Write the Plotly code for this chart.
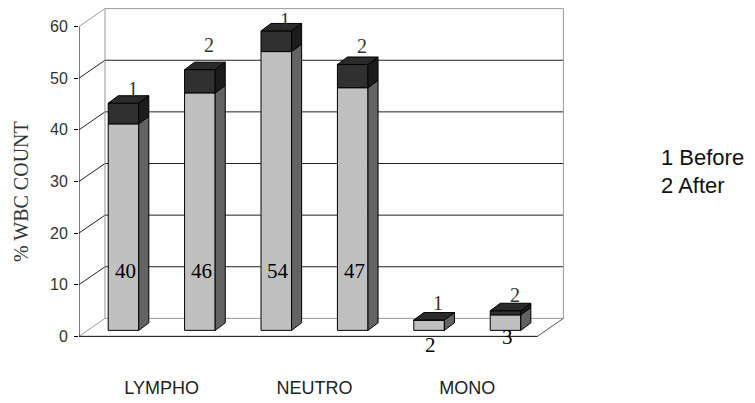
import plotly.graph_objects as go

# ---- data ----
categories = ["LYMPHO", "NEUTRO", "MONO"]
before_main = [40, 54, 2]
after_main = [46, 47, 3]
before_cap = [4, 4, 0]
after_cap = [4.5, 4.5, 0.8]
series_tags = ["1", "2"]
legend_lines = ["1 Before", "2 After"]
y_ticks = [0, 10, 20, 30, 40, 50, 60]
y_title = "% WBC COUNT"

# ---- geometry (data units) ----
DX, DY = 0.17, 3.48        # wall depth
OX, OY = 0.041, 1.16       # bar front offset inside the depth
BW = 0.2                   # bar width
BDX, BDY = 0.066, 1.45     # bar depth
GOFF = 0.25                # bar offset inside a group
value_label_y = [12.6, 12.6, 12.6, 12.6, -1.75, -0.2]
tag_yshift = [7, 17, 3, 11, 10, 8]

# page layout (browser adds 8px body margin)
W, H = 747, 395
ML, MT, MR, MB = 71, 0, 187, 46
X_RANGE = [0, 3.2]
Y_RANGE = [-4, 63.6]
PW, PH = W - ML - MR, H - MT - MB


def paper_x(wx):
    return (wx - 8 - ML) / PW


def paper_y(wy):
    return (MT + PH - (wy - 8)) / PH


C_GRAY = "#c0c0c0"
C_GRAY_SIDE = "#636363"
C_DARK = "#303030"
C_DARK_SIDE = "#1c1c1c"
C_TOP = "#2a2a2a"
SERIF = "Liberation Serif"
SANS = "Liberation Sans"

xs, mains, caps, tags = [], [], [], []
for i in range(len(categories)):
    for s, (m, c) in enumerate([(before_main, before_cap), (after_main, after_cap)]):
        xs.append(i + 0.5 + (s - 0.5) * 2 * GOFF + OX)
        mains.append(m[i])
        caps.append(c[i])
        tags.append(series_tags[s])

fig = go.Figure()
fig.add_trace(go.Bar(x=xs, y=mains, base=[OY] * len(xs), width=BW,
                     marker=dict(color=C_GRAY, line=dict(color="black", width=1)),
                     hoverinfo="skip"))
fig.add_trace(go.Bar(x=xs, y=caps, base=[OY + m for m in mains], width=BW,
                     marker=dict(color=C_DARK, line=dict(color="black", width=1)),
                     hoverinfo="skip"))


def poly(px, py, color):
    fig.add_trace(go.Scatter(x=px + [px[0]], y=py + [py[0]], mode="lines",
                             fill="toself", fillcolor=color,
                             line=dict(color="black", width=1), hoverinfo="skip"))


annotations = []
for x, m, c, tag, ly, ys in zip(xs, mains, caps, tags, value_label_y, tag_yshift):
    xl, xr = x - BW / 2, x + BW / 2
    b0 = OY
    b1 = OY + m
    b2 = OY + m + c
    poly([xr, xr + BDX, xr + BDX, xr], [b0, b0 + BDY, b1 + BDY, b1], C_GRAY_SIDE)
    if c > 0:
        poly([xr, xr + BDX, xr + BDX, xr], [b1, b1 + BDY, b2 + BDY, b2], C_DARK_SIDE)
    poly([xl, xl + BDX, xr + BDX, xr], [b2, b2 + BDY, b2 + BDY, b2], C_TOP)
    annotations.append(dict(x=x + BDX * 0.9, y=b2 + BDY, xref="x", yref="y",
                            text=tag, showarrow=False, xanchor="center", yanchor="middle",
                            yshift=ys, font=dict(family=SERIF, size=20, color="#333")))
    annotations.append(dict(x=x + 0.01, y=ly, xref="x", yref="y", text=str(m),
                            showarrow=False, xanchor="center", yanchor="middle",
                            font=dict(family=SERIF, size=21, color="#000")))

# walls / gridlines
shapes = []
n = len(categories)
for t in y_ticks:
    edge = t in (y_ticks[0], y_ticks[-1])
    col = "#9a9a9a" if edge else "#222222"
    shapes.append(dict(type="line", xref="x", yref="y", x0=0, y0=t, x1=DX, y1=t + DY,
                       line=dict(color=col, width=1), layer="below"))
    shapes.append(dict(type="line", xref="x", yref="y", x0=DX, y0=t + DY, x1=n + DX, y1=t + DY,
                       line=dict(color=col, width=1), layer="below"))
for xv in (DX, n + DX):
    shapes.append(dict(type="line", xref="x", yref="y", x0=xv, y0=DY, x1=xv, y1=y_ticks[-1] + DY,
                       line=dict(color="#9a9a9a", width=1), layer="below"))
shapes.append(dict(type="line", xref="x", yref="y", x0=n, y0=0, x1=n + DX, y1=DY,
                   line=dict(color="#555555", width=1), layer="below"))
shapes.append(dict(type="line", xref="x", yref="y", x0=0, y0=0, x1=n, y1=0,
                   line=dict(color="black", width=1), layer="below"))
shapes.append(dict(type="line", xref="x", yref="y", x0=0, y0=0, x1=0, y1=y_ticks[-1],
                   line=dict(color="black", width=1), layer="below"))

# y title
annotations.append(dict(x=paper_x(21), y=paper_y(192), xref="paper", yref="paper", text=y_title,
                        textangle=-90, showarrow=False, xanchor="center", yanchor="middle",
                        font=dict(family=SERIF, size=20, color="#333")))
# legend text
for k, line in enumerate(legend_lines):
    annotations.append(dict(x=paper_x(659), y=paper_y(157 + 28 * k), xref="paper", yref="paper",
                            text=line, showarrow=False, xanchor="left", yanchor="middle",
                            font=dict(family=SANS, size=22, color="#111")))

fig.update_layout(
    width=W, height=H,
    margin=dict(l=ML, r=MR, t=MT, b=MB, pad=0),
    paper_bgcolor="white", plot_bgcolor="white",
    showlegend=False, barmode="overlay",
    shapes=shapes, annotations=annotations,
    xaxis=dict(range=X_RANGE, tickvals=[i + 0.5 + OX for i in range(n)], ticktext=categories,
               ticks="", showline=False, showgrid=False, zeroline=False,
               ticklabelstandoff=18, tickfont=dict(family=SANS, size=18, color="#222"),
               fixedrange=True),
    yaxis=dict(range=Y_RANGE, tickvals=y_ticks, ticks="outside", ticklen=4, tickcolor="black",
               showline=False, showgrid=False, zeroline=False, ticklabelstandoff=3,
               tickfont=dict(family=SANS, size=16, color="#333"), fixedrange=True),
)
fig.write_html("out.html")
